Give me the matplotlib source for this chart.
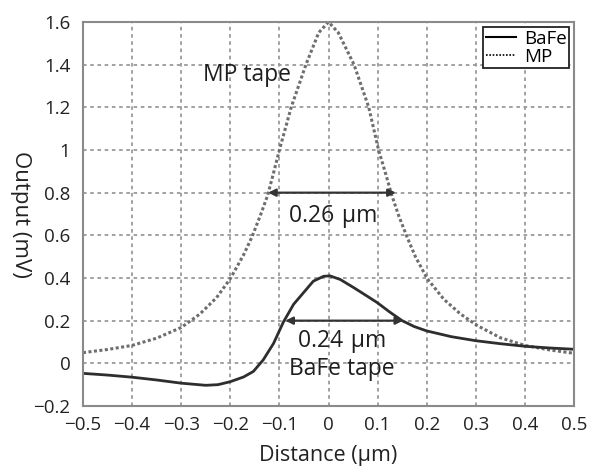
import matplotlib
matplotlib.use("Agg")
import matplotlib.pyplot as plt
from matplotlib.lines import Line2D
from matplotlib.ticker import FixedLocator, FixedFormatter

plt.rcParams['font.family'] = ['Open Sans', 'DejaVu Sans']

# Read-back signal profiles across the track (distance in µm, output in mV)
x_mp = [-0.5, -0.45, -0.4, -0.35, -0.3, -0.262, -0.228, -0.2, -0.173, -0.156,
        -0.139, -0.124, -0.112, -0.1, -0.076, -0.046, -0.02, 0, 0.02, 0.052,
        0.082, 0.102, 0.116, 0.129, 0.143, 0.16, 0.177, 0.201, 0.235, 0.269,
        0.303, 0.35, 0.4, 0.45, 0.5]
y_mp = [0.050, 0.065, 0.084, 0.118, 0.168, 0.231, 0.308, 0.397, 0.508, 0.592,
        0.692, 0.787, 0.892, 1.00, 1.20, 1.40, 1.55, 1.60, 1.55, 1.40,
        1.20, 1.00, 0.892, 0.787, 0.692, 0.592, 0.50, 0.397, 0.30, 0.231,
        0.177, 0.12, 0.084, 0.063, 0.047]

x_bafe = [-0.5, -0.45, -0.4, -0.35, -0.3, -0.25, -0.225, -0.2, -0.173, -0.153,
          -0.133, -0.112, -0.092, -0.071, -0.051, -0.031, -0.01, 0.003, 0.024, 0.052,
          0.078, 0.099, 0.125, 0.15, 0.175, 0.2, 0.25, 0.3, 0.35, 0.4,
          0.45, 0.5]
y_bafe = [-0.047, -0.055, -0.065, -0.078, -0.093, -0.103, -0.100, -0.086, -0.064, -0.038,
          0.016, 0.093, 0.193, 0.277, 0.331, 0.385, 0.408, 0.410, 0.393, 0.354,
          0.316, 0.285, 0.240, 0.200, 0.172, 0.152, 0.125, 0.106, 0.092, 0.080,
          0.072, 0.066]

# Width markers: (left, right, level)
mp_width = (-0.123, 0.137, 0.8)
bafe_width = (-0.088, 0.152, 0.2)

x_ticks = [-0.5, -0.4, -0.3, -0.2, -0.1, 0, 0.1, 0.2, 0.3, 0.4, 0.5]
x_tick_labels = ['\u22120.5', '\u22120.4', '\u22120.3', '\u22120.2', '\u22120.1',
                 '0', '0.1', '0.2', '0.3', '0.4', '0.5']
y_ticks = [-0.2, 0, 0.2, 0.4, 0.6, 0.8, 1.0, 1.2, 1.4, 1.6]
y_tick_labels = ['\u22120.2', '0', '0.2', '0.4', '0.6', '0.8', '1', '1.2', '1.4', '1.6']

fig = plt.figure(figsize=(5.9, 4.7), dpi=100)
ax = fig.add_axes([83 / 590, 1 - 406 / 470, (574 - 83) / 590, (406 - 22) / 470])

ax.set_xlim(-0.5, 0.5)
ax.set_ylim(-0.2, 1.6)
ax.xaxis.set_major_locator(FixedLocator(x_ticks))
ax.xaxis.set_major_formatter(FixedFormatter(x_tick_labels))
ax.yaxis.set_major_locator(FixedLocator(y_ticks))
ax.yaxis.set_major_formatter(FixedFormatter(y_tick_labels))
ax.tick_params(length=0, labelsize=13.5, colors='#222222')
ax.tick_params(axis='x', pad=7)
ax.tick_params(axis='y', pad=9)

ax.grid(True, color='#9a9a9a', linestyle=(0, (2, 2)), linewidth=1.3)
ax.set_axisbelow(True)
for s in ax.spines.values():
    s.set_color('#8a8a8a')
    s.set_linewidth(1.5)

ax.plot(x_mp, y_mp, color='#6e6e6e', linestyle=(0, (1, 0.8)), linewidth=2.2)
ax.plot(x_bafe, y_bafe, color='#2e2e2e', linestyle='-', linewidth=2.0,
        solid_joinstyle='round')

arrow_kw = dict(arrowstyle='<|-|>', color='#333333', lw=1.6,
                mutation_scale=11, shrinkA=0, shrinkB=0)
ax.annotate('', xy=(mp_width[0], mp_width[2]), xytext=(mp_width[1], mp_width[2]),
            arrowprops=arrow_kw)
ax.annotate('', xy=(bafe_width[0], bafe_width[2]), xytext=(bafe_width[1], bafe_width[2]),
            arrowprops=arrow_kw)

txt_kw = dict(fontsize=16.5, color='#1e1e1e', ha='center', va='center')
ax.text(0.01, 0.69, '0.26\u2004\u00b5m', **txt_kw)
ax.text(0.027, 0.107, '0.24\u2004\u00b5m', **txt_kw)
ax.text(0.028, -0.028, 'BaFe tape', **txt_kw)
ax.text(-0.165, 1.35, 'MP tape', **txt_kw)

ax.set_xlabel('Distance (\u00b5m)', fontsize=15.5, color='#222222', labelpad=8)
ax.set_ylabel('Output (mV)', fontsize=16, color='#222222', rotation=270,
              va='center')
ax.yaxis.set_label_coords(-0.128, 0.5)

handles = [Line2D([], [], color='black', lw=1.5, linestyle='-'),
           Line2D([], [], color='black', lw=1.2, linestyle=(0, (1, 1)))]
leg = ax.legend(handles, ['BaFe', 'MP'], loc='upper right', fontsize=13.5,
                frameon=True, fancybox=False, borderaxespad=0.25,
                handlelength=1.6, handletextpad=0.4, labelspacing=0.0,
                borderpad=0.15)
leg.get_frame().set_edgecolor('#222222')
leg.get_frame().set_linewidth(1.3)
leg.get_frame().set_alpha(1)

fig.savefig('out.png', dpi=100)
